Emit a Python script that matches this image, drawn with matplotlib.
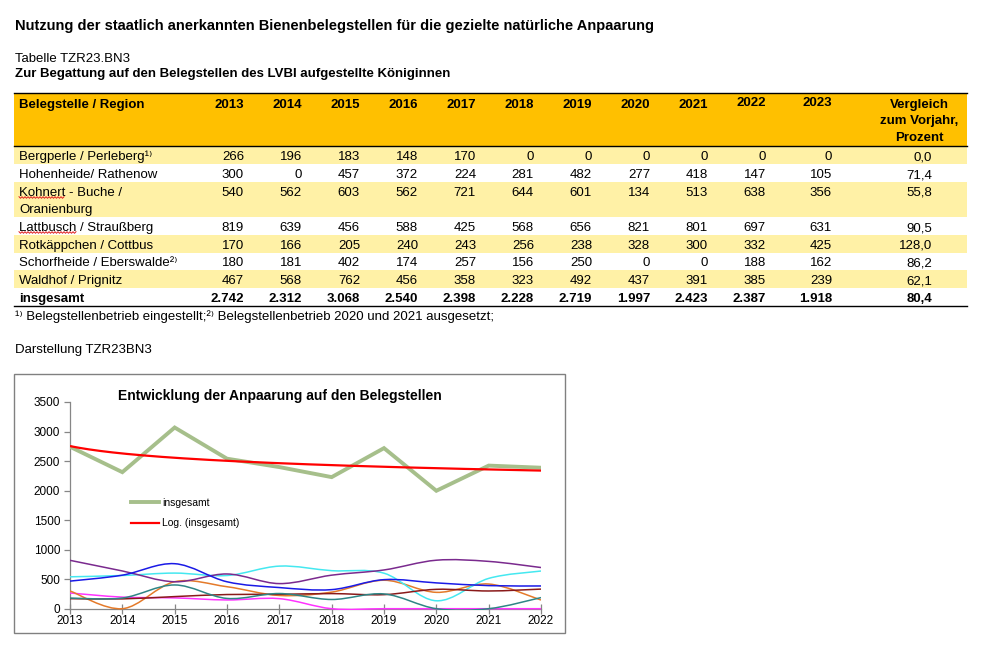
import numpy as np
import matplotlib
matplotlib.use("Agg")
import matplotlib.pyplot as plt
from matplotlib.patches import Rectangle, PathPatch
from matplotlib.lines import Line2D
from matplotlib.path import Path

plt.rcParams['font.family'] = ['Liberation Sans', 'DejaVu Sans']

# table data
years = ["2013", "2014", "2015", "2016", "2017", "2018",
         "2019", "2020", "2021", "2022", "2023"]
regions = ["Bergperle / Perleberg¹⁾", "Hohenheide/ Rathenow",
           "Kohnert - Buche /\nOranienburg", "Lattbusch / Straußberg",
           "Rotkäppchen / Cottbus", "Schorfheide / Eberswalde²⁾",
           "Waldhof / Prignitz"]
bergperle = [266, 196, 183, 148, 170, 0, 0, 0, 0, 0, 0]
hohenheide = [300, 0, 457, 372, 224, 281, 482, 277, 418, 147, 105]
kohnert = [540, 562, 603, 562, 721, 644, 601, 134, 513, 638, 356]
lattbusch = [819, 639, 456, 588, 425, 568, 656, 821, 801, 697, 631]
rotkaeppchen = [170, 166, 205, 240, 243, 256, 238, 328, 300, 332, 425]
schorfheide = [180, 181, 402, 174, 257, 156, 250, 0, 0, 188, 162]
waldhof = [467, 568, 762, 456, 358, 323, 492, 437, 391, 385, 239]
insgesamt = [2742, 2312, 3068, 2540, 2398, 2228, 2719, 1997, 2423, 2387, 1918]
vergleich = [0.0, 71.4, 55.8, 90.5, 128.0, 86.2, 62.1]
vergleich_total = 80.4

series = [bergperle, hohenheide, kohnert, lattbusch, rotkaeppchen, schorfheide, waldhof]
line_colors = ['#ff33ff', '#e47a2a', '#45e8f0', '#7a2a8e', '#8a1a1a', '#2f8585', '#1a1ae6']

W, H = 985, 672
FS = 9.5


def fx(x):
    return x / W


def fy(y):
    return 1 - y / H


def fmt_int(v):
    return f"{v:,}".replace(",", ".")


def fmt_pct(v):
    return f"{v:.1f}".replace(".", ",")


def smooth_path(xs, ys):
    """Bezier path through the points, similar to Excel's smoothed line."""
    n = len(xs)
    verts = [(xs[0], ys[0])]
    codes = [Path.MOVETO]
    for i in range(n - 1):
        x0, y0 = xs[max(i - 1, 0)], ys[max(i - 1, 0)]
        x1, y1 = xs[i], ys[i]
        x2, y2 = xs[i + 1], ys[i + 1]
        x3, y3 = xs[min(i + 2, n - 1)], ys[min(i + 2, n - 1)]
        verts += [(x1 + (x2 - x0) / 6, y1 + (y2 - y0) / 6),
                  (x2 - (x3 - x1) / 6, y2 - (y3 - y1) / 6),
                  (x2, y2)]
        codes += [Path.CURVE4] * 3
    return Path(verts, codes)


def ctext(x, yc, s, **kw):
    # place text by the visual centre of its capitals
    return fig.text(fx(x), fy(yc + 4.6), s, va='baseline', fontsize=kw.pop('fontsize', FS), **kw)


def squiggle(x0, word, y):
    # red spell-check underline like in the screenshot
    t = fig.text(0, 0, word, fontsize=FS)
    w = t.get_window_extent(renderer=fig.canvas.get_renderer()).width
    t.remove()
    xx = np.arange(x0, x0 + w + 0.1, 1.5)
    yy = y + np.where(np.arange(len(xx)) % 2 == 0, -0.8, 0.8)
    fig.add_artist(Line2D(fx(xx), fy(yy), transform=fig.transFigure, color='#e02020', lw=0.7))


fig = plt.figure(figsize=(W / 100, H / 100), dpi=100)

# headings above the table
ctext(15, 25, "Nutzung der staatlich anerkannten Bienenbelegstellen für die gezielte natürliche Anpaarung",
      fontsize=10.5, fontweight='bold')
ctext(15, 57, "Tabelle TZR23.BN3")
ctext(15, 72, "Zur Begattung auf den Belegstellen des LVBI aufgestellte Königinnen", fontweight='bold')

# table
tx0, tx1 = 14, 967
fig.add_artist(Rectangle((fx(tx0), fy(146)), (tx1 - tx0) / W, (146 - 93) / H,
                         transform=fig.transFigure, facecolor='#ffc000', edgecolor='none'))
fig.add_artist(Line2D([fx(tx0), fx(tx1)], [fy(93), fy(93)], transform=fig.transFigure, color='black', lw=1))
fig.add_artist(Line2D([fx(tx0), fx(tx1)], [fy(146), fy(146)], transform=fig.transFigure, color='black', lw=1))

col_right = [244, 302, 360, 418, 476, 534, 592, 650, 708, 766, 832]
pct_right = 932

ctext(19, 103, "Belegstelle / Region", fontweight='bold')
for yr, xr in zip(years, col_right):
    yc = 101.5 if yr in ("2022", "2023") else 103
    ctext(xr, yc, yr, fontweight='bold', ha='right')
for j, ln in enumerate(["Vergleich", "zum Vorjahr,", "Prozent"]):
    ctext(919, 103 + j * 16.5, ln, fontweight='bold', ha='center')

row_h = 17.67
top = 146.5
for k, (name, vals, pct) in enumerate(zip(regions, series, vergleich)):
    lines = name.split("\n")
    h = row_h * len(lines)
    if k % 2 == 0:
        fig.add_artist(Rectangle((fx(tx0), fy(top + h)), (tx1 - tx0) / W, h / H,
                                 transform=fig.transFigure, facecolor='#fff1a6', edgecolor='none'))
    yc = top + 9.3
    for j, ln in enumerate(lines):
        ctext(19, yc + j * row_h, ln)
    for v, xr in zip(vals, col_right):
        ctext(xr, yc, fmt_int(v), ha='right')
    ctext(pct_right, yc, fmt_pct(pct), ha='right')
    top += h

yc = top + 9.3
ctext(19, yc, "insgesamt", fontweight='bold')
for v, xr in zip(insgesamt, col_right):
    ctext(xr, yc, fmt_int(v), fontweight='bold', ha='right')
ctext(pct_right, yc, fmt_pct(vergleich_total), fontweight='bold', ha='right')
top += row_h
fig.add_artist(Line2D([fx(tx0), fx(tx1)], [fy(top), fy(top)], transform=fig.transFigure, color='black', lw=1))

squiggle(19, "Kohnert", 197.5)
squiggle(19, "Lattbusch", 232.5)

ctext(15, 315, "¹⁾ Belegstellenbetrieb eingestellt;²⁾ Belegstellenbetrieb 2020 und 2021 ausgesetzt;")
ctext(15, 348, "Darstellung TZR23BN3")

# chart frame
fig.add_artist(Rectangle((fx(14), fy(633)), (565 - 14) / W, (633 - 374) / H,
                         transform=fig.transFigure, facecolor='none', edgecolor='#808080', lw=1))
ctext(280, 395, "Entwicklung der Anpaarung auf den Belegstellen",
      fontsize=10, fontweight='bold', ha='center')

ax = fig.add_axes([fx(70), fy(608.7), (541 - 70) / W, (608.7 - 402) / H])
n = 10
xs = np.arange(n)
clip = Rectangle((0, -0.008), 1, 1.016, transform=ax.transAxes)
for vals, c in zip(series, line_colors):
    p = PathPatch(smooth_path(xs, vals[:n]), facecolor='none', edgecolor=c, lw=1.1, zorder=3)
    ax.add_patch(p)
    p.set_clip_path(clip)

l_total, = ax.plot(xs, insgesamt[:n], color='#a6bf8b', lw=2.8, zorder=4, solid_joinstyle='miter')

# logarithmic trend line of the total, as in Excel
b, a = np.polyfit(np.log(xs + 1), insgesamt[:n], 1)
xt = np.linspace(0, n - 1, 200)
l_trend, = ax.plot(xt, a + b * np.log(xt + 1), color='#ff0000', lw=1.6, zorder=5)

ax.set_xlim(0, n - 1)
ax.set_ylim(0, 3500)
ax.set_xticks(xs)
ax.set_xticklabels(years[:n])
ax.set_yticks(np.arange(0, 3501, 500))
ax.set_facecolor('none')
for s in ('top', 'right'):
    ax.spines[s].set_visible(False)
for s in ('left', 'bottom'):
    ax.spines[s].set_color('#868686')
    ax.spines[s].set_linewidth(0.9)
ax.tick_params(axis='y', length=4, width=0.9, color='#868686', labelsize=8.5, pad=3)
ax.tick_params(axis='x', direction='inout', length=7, width=0.9, color='#868686', labelsize=8.5, pad=1)

ax.legend([l_total, l_trend], ["insgesamt", "Log. (insgesamt)"], loc='upper left',
          bbox_to_anchor=(fx(131), fy(497.5)), bbox_transform=fig.transFigure, frameon=False,
          borderpad=0, borderaxespad=0, handlelength=2.7, handletextpad=0.3,
          labelspacing=1.05, fontsize=7.5)

fig.savefig("out.png", dpi=100)
